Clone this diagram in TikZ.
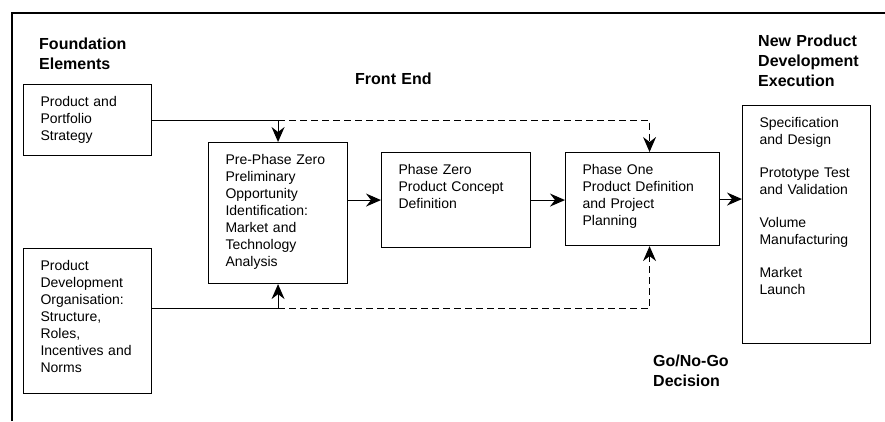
\documentclass[tikz,border=0pt]{standalone}
\usepackage{fontspec}
\setmainfont{Liberation Sans}
\usetikzlibrary{arrows.meta}

\begin{document}
\begin{tikzpicture}[x=1pt, y=-1pt,
	block/.style = {draw, line width=1.1pt,
		anchor=north west, align=left,
		inner xsep=17pt, inner ysep=12pt, text height=10pt,
		font=\fontsize{14}{17}\selectfont},
	head/.style = {anchor=north west, align=left, text width=125pt,
		inner sep=0pt, text height=12pt,
		font=\bfseries\fontsize{16}{20}\selectfont},
	link/.style = {line width=1.1pt},
	gate/.style = {line width=1.1pt, dash pattern=on 7pt off 4pt},
	>={Stealth[length=15pt,width=13pt,inset=5pt]}]
	
	\useasboundingbox (0,0) rectangle (885,421);
	
	% Frame
	\draw[link] (12,421) -- (12,13) -- (885,13);
	
	% Headings
	\node[head] (found) at (39,37) {Foundation\\Elements};
	\node[head] (front) at (355,72) {Front End};
	\node[head] (npd) at (758,34) {New Product\\Development\\Execution};
	\node[head] (decide) at (653,354) {Go/No-Go\\Decision};
	
	% Foundation elements
	\node[block, text width=94pt, text depth=37pt] (portfolio) at (23,84)
		{Product and\\Portfolio\\Strategy};
	\node[block, text width=94pt, text depth=111pt] (org) at (23,248)
		{Product\\Development\\Organisation:\\Structure,\\Roles,\\Incentives and\\Norms};
	
	% Front end phases
	\node[block, text width=105pt, text depth=107pt] (prezero) at (208,142)
		{Pre-Phase Zero\\Preliminary\\Opportunity\\Identification:\\Market and\\Technology\\Analysis};
	\node[block, text width=115pt, text depth=61pt] (zero) at (381,152)
		{Phase Zero\\Product Concept\\Definition};
	\node[block, text width=120pt, text depth=59pt] (one) at (565,152)
		{Phase One\\Product Definition\\and Project\\Planning};
	
	% Execution
	\node[block, text width=94pt, text depth=204pt] (exec) at (742,105)
		{Specification\\and Design\\[16pt]Prototype Test\\and Validation\\[16pt]Volume\\Manufacturing\\[16pt]Market\\Launch};
	
	% Phase flow
	\draw[link,->] (prezero.east |- zero.west) -- (zero.west);
	\draw[link,->] (zero.east) -- (zero.east -| one.west);
	\draw[link,->] (one.east) -- (one.east -| exec.west);
	
	% Strategy feed
	\coordinate (topsplit) at (prezero.north |- portfolio.east);
	\coordinate (onetop) at ([xshift=7pt]one.north);
	\coordinate (topgate) at (onetop |- portfolio.east);
	\draw[link] (portfolio.east) -- (topsplit);
	\draw[link,->] (topsplit) -- (prezero.north);
	\draw[gate,->] (topsplit) -- (topgate) -- (onetop);
	
	% Organisation feed
	\coordinate (orgout) at ([yshift=13pt]org.east);
	\coordinate (botsplit) at (prezero.south |- orgout);
	\coordinate (onefoot) at ([xshift=7pt]one.south);
	\coordinate (botgate) at (onefoot |- orgout);
	\draw[link] (orgout) -- (botsplit);
	\draw[link,->] (botsplit) -- (prezero.south);
	\draw[gate,->] (botsplit) -- (botgate) -- (onefoot);
	
\end{tikzpicture}
\end{document}
